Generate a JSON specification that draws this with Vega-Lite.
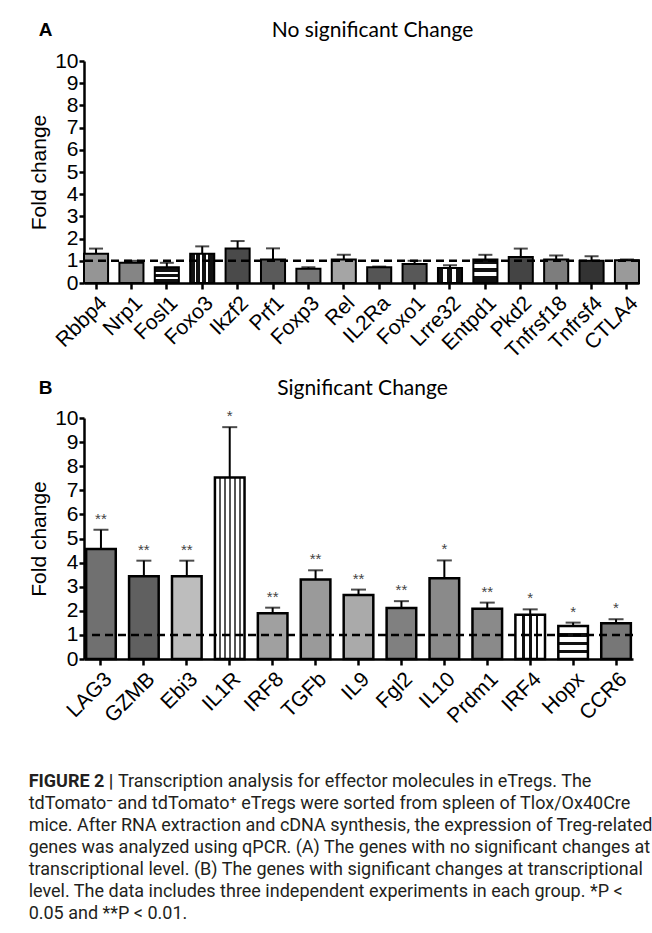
{
  "$schema": "https://vega.github.io/schema/vega-lite/v6.json",
  "background": "white",
  "padding": {"left": 28, "top": 20, "right": 0, "bottom": 0},
  "spacing": 16,
  "config": {
    "view": {"stroke": null},
    "font": "Liberation Sans",
    "axis": {"domainColor": "black", "domainWidth": 2.5, "tickColor": "black", "tickWidth": 2.5, "tickSize": 5, "labelColor": "black", "labelFont": "Liberation Sans", "titleFont": "Liberation Sans", "titleColor": "black", "titleFontWeight": "normal", "grid": false, "labelOverlap": false},
    "axisX": {"labelAngle": -45, "labelFontSize": 21, "labelPadding": 3, "tickSize": 6},
    "axisY": {"labelFontSize": 21, "titleFontSize": 21, "labelPadding": 1, "titlePadding": 5, "labelOverlap": false, "labelSeparation": 0, "tickCount": 11}
  },
  "datasets": {
    "a": [
      {"gene": "Rbbp4", "value": 1.32, "err": 1.55},
      {"gene": "Nrp1", "value": 0.91, "err": 1.0},
      {"gene": "Fosl1", "value": 0.71, "err": 0.91},
      {"gene": "Foxo3", "value": 1.32, "err": 1.65},
      {"gene": "Ikzf2", "value": 1.55, "err": 1.89},
      {"gene": "Prf1", "value": 1.06, "err": 1.56},
      {"gene": "Foxp3", "value": 0.64, "err": 0.71},
      {"gene": "Rel", "value": 1.06, "err": 1.27},
      {"gene": "IL2Ra", "value": 0.71, "err": 0.74},
      {"gene": "Foxo1", "value": 0.86, "err": 1.0},
      {"gene": "Lrre32", "value": 0.68, "err": 0.8},
      {"gene": "Entpd1", "value": 1.06, "err": 1.27},
      {"gene": "Pkd2", "value": 1.17, "err": 1.55},
      {"gene": "Tnfrsf18", "value": 1.06, "err": 1.24},
      {"gene": "Tnfrsf4", "value": 1.0, "err": 1.2},
      {"gene": "CTLA4", "value": 1.03, "err": 1.06}
    ],
    "b": [
      {"gene": "LAG3", "value": 4.56, "err": 5.36, "sig": "**"},
      {"gene": "GZMB", "value": 3.43, "err": 4.08, "sig": "**"},
      {"gene": "Ebi3", "value": 3.43, "err": 4.08, "sig": "**"},
      {"gene": "IL1R", "value": 7.53, "err": 9.62, "sig": "*"},
      {"gene": "IRF8", "value": 1.9, "err": 2.13, "sig": "**"},
      {"gene": "TGFb", "value": 3.3, "err": 3.68, "sig": "**"},
      {"gene": "IL9", "value": 2.66, "err": 2.88, "sig": "**"},
      {"gene": "Fgl2", "value": 2.12, "err": 2.4, "sig": "**"},
      {"gene": "IL10", "value": 3.35, "err": 4.09, "sig": "*"},
      {"gene": "Prdm1", "value": 2.09, "err": 2.34, "sig": "**"},
      {"gene": "IRF4", "value": 1.84, "err": 2.06, "sig": "*"},
      {"gene": "Hopx", "value": 1.37, "err": 1.51, "sig": "*"},
      {"gene": "CCR6", "value": 1.48, "err": 1.65, "sig": "*"}
    ],
    "ref": [{"level": 1}]
  },
  "title": {
    "text": "FIGURE 2 |",
    "subtitle": [
      "\u200b\u00a0\u00a0\u00a0\u00a0\u00a0\u00a0\u00a0\u00a0\u00a0\u00a0\u00a0\u00a0\u00a0\u00a0\u00a0\u00a0\u00a0\u00a0\u00a0\u00a0Transcription analysis for effector molecules in eTregs. The",
      "tdTomato⁻ and tdTomato⁺ eTregs were sorted from spleen of Tlox/Ox40Cre",
      "mice. After RNA extraction and cDNA synthesis, the expression of Treg-related",
      "genes was analyzed using qPCR. (A) The genes with no significant changes at",
      "transcriptional level. (B) The genes with significant changes at transcriptional",
      "level. The data includes three independent experiments in each group. *P <",
      "0.05 and **P < 0.01."
    ],
    "orient": "bottom",
    "anchor": "start",
    "frame": "bounds",
    "offset": 46,
    "font": "Roboto",
    "fontSize": 18,
    "fontWeight": "bold",
    "color": "#231f20",
    "subtitleFont": "Roboto",
    "subtitleFontSize": 18,
    "subtitleFontWeight": "normal",
    "subtitleColor": "#231f20",
    "subtitleLineHeight": 22,
    "subtitlePadding": -18
  },
  "vconcat": [
    {
      "title": {"text": "A", "anchor": "start", "frame": "bounds", "fontSize": 19, "fontWeight": "bold", "font": "Liberation Sans", "color": "black", "dx": 10, "dy": 20, "offset": 0},
      "vconcat": [
        {
          "width": 555,
          "height": 222,
          "title": {"text": "No significant Change", "font": "Lato", "fontSize": 21, "fontWeight": "normal", "color": "black", "anchor": "middle", "dx": 11, "offset": 9},
          "layer": [
            {
              "data": {"name": "a"},
              "mark": {"type": "bar", "stroke": "black", "strokeWidth": 2},
              "encoding": {
                "x": {"field": "gene", "type": "nominal", "sort": null, "scale": {"paddingInner": 0.32, "paddingOuter": 0}, "axis": {"title": null}},
                "y": {"field": "value", "type": "quantitative", "scale": {"domain": [0, 10], "nice": false}, "axis": {"title": "Fold change", "values": {"expr": "[0,1,2,3,4,5,6,7,8,9,10]"}, "tickCount": 11, "labelOverlap": false}},
                "fill": {
                  "condition": [
                    {"test": "datum.gene === 'Rbbp4'", "value": "#959595"},
                    {"test": "datum.gene === 'Nrp1'", "value": "#858585"},
                    {"test": "datum.gene === 'Fosl1'", "value": {"gradient": "linear", "x1": 0, "y1": 0, "x2": 0, "y2": 1, "stops": [{"offset": 0, "color": "#111"}, {"offset": 0.3, "color": "#111"}, {"offset": 0.3, "color": "white"}, {"offset": 0.42, "color": "white"}, {"offset": 0.42, "color": "#111"}, {"offset": 0.62, "color": "#111"}, {"offset": 0.62, "color": "white"}, {"offset": 0.74, "color": "white"}, {"offset": 0.74, "color": "#111"}, {"offset": 1, "color": "#111"}]}},
                    {"test": "datum.gene === 'Foxo3'", "value": {"gradient": "linear", "x1": 0, "y1": 0, "x2": 1, "y2": 0, "stops": [{"offset": 0, "color": "#111"}, {"offset": 0.18, "color": "#111"}, {"offset": 0.18, "color": "white"}, {"offset": 0.26, "color": "white"}, {"offset": 0.26, "color": "#111"}, {"offset": 0.42, "color": "#111"}, {"offset": 0.42, "color": "white"}, {"offset": 0.5, "color": "white"}, {"offset": 0.5, "color": "#111"}, {"offset": 0.66, "color": "#111"}, {"offset": 0.66, "color": "white"}, {"offset": 0.74, "color": "white"}, {"offset": 0.74, "color": "#111"}, {"offset": 1, "color": "#111"}]}},
                    {"test": "datum.gene === 'Ikzf2'", "value": "#4a4a4a"},
                    {"test": "datum.gene === 'Prf1'", "value": "#5a5a5a"},
                    {"test": "datum.gene === 'Foxp3'", "value": "#777777"},
                    {"test": "datum.gene === 'Rel'", "value": "#a5a5a5"},
                    {"test": "datum.gene === 'IL2Ra'", "value": "#555555"},
                    {"test": "datum.gene === 'Foxo1'", "value": "#585858"},
                    {"test": "datum.gene === 'Lrre32'", "value": {"gradient": "linear", "x1": 0, "y1": 0, "x2": 1, "y2": 0, "stops": [{"offset": 0, "color": "#111"}, {"offset": 0.22, "color": "#111"}, {"offset": 0.22, "color": "white"}, {"offset": 0.38, "color": "white"}, {"offset": 0.38, "color": "#111"}, {"offset": 0.6, "color": "#111"}, {"offset": 0.6, "color": "white"}, {"offset": 0.76, "color": "white"}, {"offset": 0.76, "color": "#111"}, {"offset": 1, "color": "#111"}]}},
                    {"test": "datum.gene === 'Entpd1'", "value": {"gradient": "linear", "x1": 0, "y1": 0, "x2": 0, "y2": 1, "stops": [{"offset": 0, "color": "#111"}, {"offset": 0.2, "color": "#111"}, {"offset": 0.2, "color": "white"}, {"offset": 0.35, "color": "white"}, {"offset": 0.35, "color": "#111"}, {"offset": 0.55, "color": "#111"}, {"offset": 0.55, "color": "white"}, {"offset": 0.7, "color": "white"}, {"offset": 0.7, "color": "#111"}, {"offset": 1, "color": "#111"}]}},
                    {"test": "datum.gene === 'Pkd2'", "value": "#444444"},
                    {"test": "datum.gene === 'Tnfrsf18'", "value": "#7d7d7d"},
                    {"test": "datum.gene === 'Tnfrsf4'", "value": "#333333"},
                    {"test": "datum.gene === 'CTLA4'", "value": "#9a9a9a"}
                  ],
                  "value": "#888888"
                }
              }
            },
            {
              "data": {"name": "a"},
              "mark": {"type": "rule", "color": "black", "strokeWidth": 2},
              "encoding": {
                "x": {"field": "gene", "type": "nominal", "sort": null},
                "y": {"field": "value", "type": "quantitative"},
                "y2": {"field": "err"}
              }
            },
            {
              "data": {"name": "a"},
              "mark": {"type": "tick", "color": "black", "thickness": 2, "size": 14},
              "encoding": {
                "x": {"field": "gene", "type": "nominal", "sort": null},
                "y": {"field": "err", "type": "quantitative"}
              }
            },
            {
              "data": {"name": "ref"},
              "mark": {"type": "rule", "color": "black", "strokeWidth": 2.5, "strokeDash": [8, 5]},
              "encoding": {"y": {"field": "level", "type": "quantitative"}}
            }
          ]
        }
      ]
    },
    {
      "title": {"text": "B", "anchor": "start", "frame": "bounds", "fontSize": 19, "fontWeight": "bold", "font": "Liberation Sans", "color": "black", "dx": 10, "dy": 20, "offset": 0},
      "vconcat": [
        {
          "width": 549,
          "height": 241,
          "title": {"text": "Significant Change", "font": "Lato", "fontSize": 21, "fontWeight": "normal", "color": "black", "anchor": "middle", "dx": 4, "offset": 8},
          "layer": [
            {
              "data": {"name": "b"},
              "mark": {"type": "bar", "stroke": "black", "strokeWidth": 2.5},
              "encoding": {
                "x": {"field": "gene", "type": "nominal", "sort": null, "scale": {"paddingInner": 0.31, "paddingOuter": 0.05}, "axis": {"title": null}},
                "y": {"field": "value", "type": "quantitative", "scale": {"domain": [0, 10], "nice": false}, "axis": {"title": "Fold change", "values": {"expr": "[0,1,2,3,4,5,6,7,8,9,10]"}, "tickCount": 11, "labelOverlap": false}},
                "fill": {
                  "condition": [
                    {"test": "datum.gene === 'LAG3'", "value": "#707070"},
                    {"test": "datum.gene === 'GZMB'", "value": "#606060"},
                    {"test": "datum.gene === 'Ebi3'", "value": "#bdbdbd"},
                    {"test": "datum.gene === 'IL1R'", "value": {"gradient": "linear", "x1": 0, "y1": 0, "x2": 1, "y2": 0, "stops": [{"offset": 0, "color": "white"}, {"offset": 0.14, "color": "white"}, {"offset": 0.14, "color": "#555"}, {"offset": 0.2, "color": "#555"}, {"offset": 0.2, "color": "white"}, {"offset": 0.31, "color": "white"}, {"offset": 0.31, "color": "#555"}, {"offset": 0.37, "color": "#555"}, {"offset": 0.37, "color": "white"}, {"offset": 0.48, "color": "white"}, {"offset": 0.48, "color": "#555"}, {"offset": 0.54, "color": "#555"}, {"offset": 0.54, "color": "white"}, {"offset": 0.65, "color": "white"}, {"offset": 0.65, "color": "#555"}, {"offset": 0.71, "color": "#555"}, {"offset": 0.71, "color": "white"}, {"offset": 0.82, "color": "white"}, {"offset": 0.82, "color": "#555"}, {"offset": 0.88, "color": "#555"}, {"offset": 0.88, "color": "white"}, {"offset": 1, "color": "white"}]}},
                    {"test": "datum.gene === 'IRF8'", "value": "#a0a0a0"},
                    {"test": "datum.gene === 'TGFb'", "value": "#9a9a9a"},
                    {"test": "datum.gene === 'IL9'", "value": "#aaaaaa"},
                    {"test": "datum.gene === 'Fgl2'", "value": "#808080"},
                    {"test": "datum.gene === 'IL10'", "value": "#8a8a8a"},
                    {"test": "datum.gene === 'Prdm1'", "value": "#8a8a8a"},
                    {"test": "datum.gene === 'IRF4'", "value": {"gradient": "linear", "x1": 0, "y1": 0, "x2": 1, "y2": 0, "stops": [{"offset": 0, "color": "white"}, {"offset": 0.22, "color": "white"}, {"offset": 0.22, "color": "#111"}, {"offset": 0.32, "color": "#111"}, {"offset": 0.32, "color": "white"}, {"offset": 0.45, "color": "white"}, {"offset": 0.45, "color": "#111"}, {"offset": 0.55, "color": "#111"}, {"offset": 0.55, "color": "white"}, {"offset": 0.68, "color": "white"}, {"offset": 0.68, "color": "#111"}, {"offset": 0.78, "color": "#111"}, {"offset": 0.78, "color": "white"}, {"offset": 1, "color": "white"}]}},
                    {"test": "datum.gene === 'Hopx'", "value": {"gradient": "linear", "x1": 0, "y1": 0, "x2": 0, "y2": 1, "stops": [{"offset": 0, "color": "white"}, {"offset": 0.22, "color": "white"}, {"offset": 0.22, "color": "#111"}, {"offset": 0.32, "color": "#111"}, {"offset": 0.32, "color": "white"}, {"offset": 0.47, "color": "white"}, {"offset": 0.47, "color": "#111"}, {"offset": 0.57, "color": "#111"}, {"offset": 0.57, "color": "white"}, {"offset": 0.72, "color": "white"}, {"offset": 0.72, "color": "#111"}, {"offset": 0.82, "color": "#111"}, {"offset": 0.82, "color": "white"}, {"offset": 1, "color": "white"}]}},
                    {"test": "datum.gene === 'CCR6'", "value": "#777777"}
                  ],
                  "value": "#888888"
                }
              }
            },
            {
              "data": {"name": "b"},
              "mark": {"type": "rule", "color": "black", "strokeWidth": 2},
              "encoding": {
                "x": {"field": "gene", "type": "nominal", "sort": null},
                "y": {"field": "value", "type": "quantitative"},
                "y2": {"field": "err"}
              }
            },
            {
              "data": {"name": "b"},
              "mark": {"type": "tick", "color": "black", "thickness": 2, "size": 15},
              "encoding": {
                "x": {"field": "gene", "type": "nominal", "sort": null},
                "y": {"field": "err", "type": "quantitative"}
              }
            },
            {
              "data": {"name": "b"},
              "mark": {"type": "text", "font": "Liberation Sans", "fontSize": 15, "color": "#444", "baseline": "alphabetic", "dy": -6},
              "encoding": {
                "x": {"field": "gene", "type": "nominal", "sort": null},
                "y": {"field": "err", "type": "quantitative"},
                "text": {"field": "sig"}
              }
            },
            {
              "data": {"name": "ref"},
              "mark": {"type": "rule", "color": "black", "strokeWidth": 2.5, "strokeDash": [8, 5]},
              "encoding": {"y": {"field": "level", "type": "quantitative"}}
            }
          ]
        }
      ]
    }
  ]
}
